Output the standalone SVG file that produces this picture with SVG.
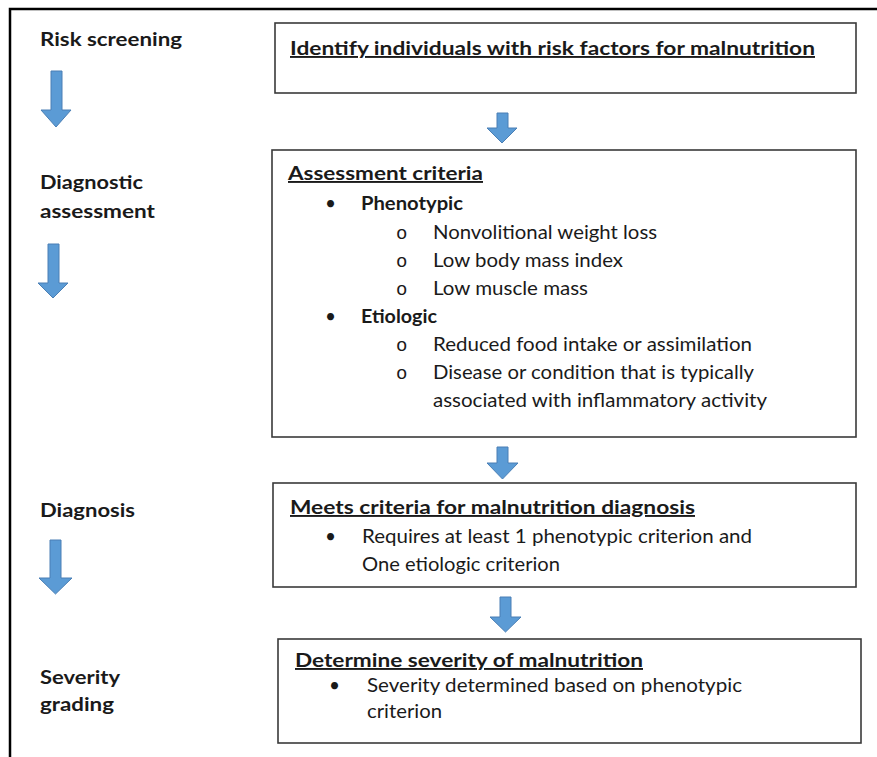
<svg xmlns="http://www.w3.org/2000/svg" width="877" height="757" viewBox="0 0 877 757">
<style>
text{font-family:Lato,"Open Sans","Liberation Sans",sans-serif;font-size:19px;fill:#1a1a1a}
.b{font-weight:bold}
.u{text-decoration:underline}
.box{fill:#fff;stroke:#3a3a3a;stroke-width:1.6}
.arr{fill:#5b9bd5;stroke:#4a7fb5;stroke-width:1}
.o{font-family:"Liberation Mono",monospace;font-size:19px}
</style>
<rect x="0" y="0" width="877" height="757" fill="#fff"/>
<rect x="10" y="9" width="900" height="800" fill="none" stroke="#000" stroke-width="2.5"/>

<g id="stage-risk-screening">
<text class="b" x="40" y="46" textLength="142" lengthAdjust="spacingAndGlyphs">Risk screening</text>
</g>
<g id="stage-diagnostic-assessment">
<text class="b" x="40" y="189" textLength="103" lengthAdjust="spacingAndGlyphs">Diagnostic</text>
<text class="b" x="40" y="218" textLength="115" lengthAdjust="spacingAndGlyphs">assessment</text>
</g>
<g id="stage-diagnosis">
<text class="b" x="40" y="517" textLength="95" lengthAdjust="spacingAndGlyphs">Diagnosis</text>
</g>
<g id="stage-severity-grading">
<text class="b" x="40" y="684" textLength="80" lengthAdjust="spacingAndGlyphs">Severity</text>
<text class="b" x="40" y="711" textLength="74" lengthAdjust="spacingAndGlyphs">grading</text>
</g>

<g id="box-identify">
<rect class="box" x="275" y="23" width="581" height="70"/>
<text class="b u" x="290" y="55" textLength="525" lengthAdjust="spacingAndGlyphs">Identify individuals with risk factors for malnutrition</text>
</g>

<g id="box-assessment">
<rect class="box" x="272" y="150" width="584" height="287"/>
<text class="b u" x="288" y="180" textLength="195" lengthAdjust="spacingAndGlyphs">Assessment criteria</text>
<text x="325" y="210">•</text>
<text class="b" x="361" y="210" textLength="102" lengthAdjust="spacingAndGlyphs">Phenotypic</text>
<text class="o" x="396" y="239">o</text>
<text x="433" y="239" textLength="224" lengthAdjust="spacingAndGlyphs">Nonvolitional weight loss</text>
<text class="o" x="396" y="267">o</text>
<text x="433" y="267" textLength="190" lengthAdjust="spacingAndGlyphs">Low body mass index</text>
<text class="o" x="396" y="295">o</text>
<text x="433" y="295" textLength="155" lengthAdjust="spacingAndGlyphs">Low muscle mass</text>
<text x="325" y="323">•</text>
<text class="b" x="361" y="323" textLength="76" lengthAdjust="spacingAndGlyphs">Etiologic</text>
<text class="o" x="396" y="351">o</text>
<text x="433" y="351" textLength="319" lengthAdjust="spacingAndGlyphs">Reduced food intake or assimilation</text>
<text class="o" x="396" y="379">o</text>
<text x="433" y="379" textLength="321" lengthAdjust="spacingAndGlyphs">Disease or condition that is typically</text>
<text x="433" y="407" textLength="334" lengthAdjust="spacingAndGlyphs">associated with inflammatory activity</text>
</g>

<g id="box-diagnosis">
<rect class="box" x="273" y="483" width="583" height="104"/>
<text class="b u" x="290" y="514" textLength="405" lengthAdjust="spacingAndGlyphs">Meets criteria for malnutrition diagnosis</text>
<text x="325" y="543">•</text>
<text x="362" y="543" textLength="390" lengthAdjust="spacingAndGlyphs">Requires at least 1 phenotypic criterion and</text>
<text x="362" y="571" textLength="198" lengthAdjust="spacingAndGlyphs">One etiologic criterion</text>
</g>

<g id="box-severity">
<rect class="box" x="278" y="639" width="583" height="104"/>
<text class="b u" x="295" y="667" textLength="348" lengthAdjust="spacingAndGlyphs">Determine severity of malnutrition</text>
<text x="329" y="692">•</text>
<text x="367" y="692" textLength="375" lengthAdjust="spacingAndGlyphs">Severity determined based on phenotypic</text>
<text x="367" y="718" textLength="75" lengthAdjust="spacingAndGlyphs">criterion</text>
</g>

<g id="connectors">
<polygon class="arr" points="51,71 62,71 62,110 71,110 56,127 41,110 51,110"/>
<polygon class="arr" points="48,244 59,244 59,283 68,283 53,298 38,283 48,283"/>
<polygon class="arr" points="50,540 61,540 61,578 72,578 55.5,594 39,578 50,578"/>
<polygon class="arr" points="497,113 508,113 508,128 517,128 502,143 487,128 497,128"/>
<polygon class="arr" points="497,447 508,447 508,463 518,463 502.5,479 487,463 497,463"/>
<polygon class="arr" points="500,597 511,597 511,617 521,617 505.5,632 490,617 500,617"/>
</g>
</svg>
